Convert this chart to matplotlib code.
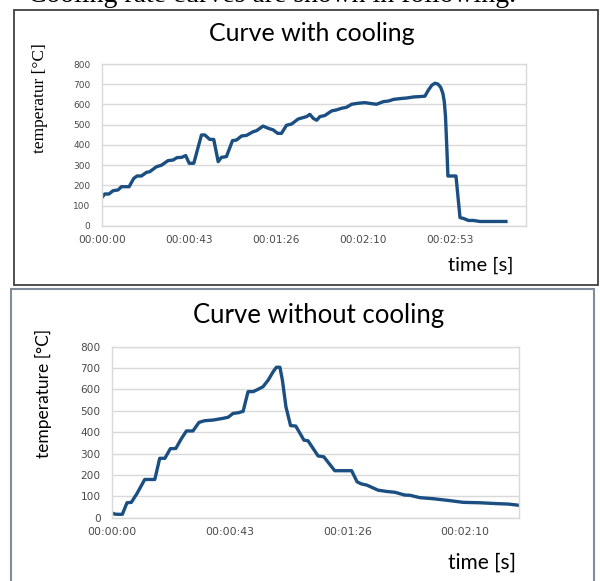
import matplotlib.pyplot as plt
from matplotlib.patches import Rectangle

# curve with cooling (time in s, temperature in degC)
t_cool = [0, 1.5, 3.6, 5.6, 8.1, 9.8, 13.6, 15.9, 17.5, 19.7, 22.2, 23.8, 27.2, 29.6,
          32.9, 35.4, 37.4, 39.6, 41.7, 43.4, 45.7, 49.5, 51.2, 53.6, 55.6, 57.8, 59.4,
          61.9, 64.9, 66.9, 69.4, 71.9, 75.1, 76.8, 80.1, 82.6, 85.1, 87.3, 89.2, 91.7,
          94.2, 97.5, 101.7, 103.3, 105.0, 106.7, 108.3, 110.7, 114.1, 116.5, 119.0,
          121.5, 124.0, 127.3, 130.6, 133.9, 136.4, 139.8, 142.3, 144.8, 148.1, 151.4,
          154.7, 158.0, 160.4, 162.1, 163.8, 165.4, 166.8, 168.2, 169.3, 170.0, 170.6,
          171.3, 171.8, 173.7, 175.8, 177.8, 179.5, 182.0, 184.4, 187.7, 194.3, 200.6]
T_cool = [138, 157, 157, 173, 177, 193, 193, 234, 246, 246, 264, 267, 292, 299,
          322, 325, 337, 338, 347, 309, 309, 449, 449, 427, 427, 317, 338,
          342, 421, 424, 444, 447, 465, 470, 493, 482, 474, 457, 457, 497,
          503, 528, 540, 551, 531, 522, 540, 545, 568, 573, 581,
          586, 601, 606, 609, 604, 601, 614, 617, 625, 629, 632,
          637, 639, 641, 671, 695, 705, 701, 685, 655, 614, 541,
          376, 246, 246, 246, 40, 36, 26, 26, 21, 21, 21]

# curve without cooling
t_nocool = [0, 1.1, 2.3, 3.9, 5.6, 7.2, 9.3, 12.1, 15.8, 17.6, 19.5, 21.5, 23.5, 25.6,
            27.4, 29.8, 32.0, 34.1, 37.2, 40.8, 42.7, 44.5, 46.4, 48.2, 50.0, 51.9,
            53.7, 55.5, 57.4, 59.2, 60.4, 61.7, 62.6, 63.9, 65.6, 67.5, 70.5, 72.0,
            75.7, 77.8, 81.8, 88.0, 90.0, 91.6, 93.5, 97.7, 100.8, 103.9, 107.5, 109.4,
            113.0, 117.9, 123.4, 128.9, 135.1, 141.2, 145.4, 149.5]
T_nocool = [23, 17, 16, 16, 70, 72, 114, 179, 179, 278, 278, 323, 324, 371,
            406, 406, 446, 454, 457, 465, 470, 488, 491, 498, 590, 590,
            601, 613, 644, 683, 704, 704, 644, 519, 431, 429, 363, 360,
            289, 285, 220, 220, 168, 158, 153, 129, 123, 119, 106, 105,
            94, 89, 81, 72, 70, 66, 64, 58]

x_ticks = [0, 43.2, 86.4, 129.6, 172.8]
x_labels = ['00:00:00', '00:00:43', '00:01:26', '00:02:10', '00:02:53']
y_ticks = [0, 100, 200, 300, 400, 500, 600, 700, 800]

line_col = '#1b4f82'
grid_col = '#d9d9d9'
tick_col = '#4a4a4a'

fig = plt.figure(figsize=(6, 5.81), dpi=100)

# text line of the page, mostly cut off at the top
fig.text(0.047, 0.9966, 'Cooling rate curves are shown in following.',
         family='Liberation Serif', fontsize=20, va='baseline', ha='left')

# frames around the two pictures
fig.patches.append(Rectangle((0.0225, 0.5095), 0.974, 0.474, transform=fig.transFigure,
                             fill=False, ec='#404040', lw=1.3))
fig.patches.append(Rectangle((0.019, -0.02), 0.971, 0.5226, transform=fig.transFigure,
                             fill=False, ec='#7f8c99', lw=1.5))


def style(ax, xmax, xsize, ysize):
    ax.set_xlim(0, xmax)
    ax.set_ylim(0, 800)
    ax.set_yticks(y_ticks)
    ax.set_xticks(x_ticks[:len([x for x in x_ticks if x <= xmax])])
    ax.set_xticklabels(x_labels[:len(ax.get_xticks())])
    ax.grid(axis='y', color=grid_col, lw=1)
    ax.set_axisbelow(True)
    for s in ax.spines.values():
        s.set_color(grid_col)
        s.set_linewidth(1)
    ax.tick_params(length=0, colors=tick_col)
    ax.tick_params(axis='x', labelsize=xsize, pad=7)
    ax.tick_params(axis='y', labelsize=ysize, pad=8)
    for lab in ax.get_xticklabels() + ax.get_yticklabels():
        lab.set_family('DejaVu Sans')


ax1 = fig.add_axes([0.1695, 0.6115, 0.707, 0.2783])
ax1.plot(t_cool, T_cool, color=line_col, lw=2.4, solid_joinstyle='round')
style(ax1, 210.5, 7.6, 6.5)
fig.text(0.52, 0.9432, 'Curve with cooling', family='Lato', fontsize=18,
         ha='center', va='center')
fig.text(0.0667, 0.8313, 'temperatur [°C]', family='Liberation Serif', fontsize=12.5,
         rotation=90, ha='center', va='center')
fig.text(0.8008, 0.5439, 'time [s]', family='Lato', fontsize=14.5,
         ha='center', va='center')

ax2 = fig.add_axes([0.1862, 0.1089, 0.6793, 0.2943])
ax2.plot(t_nocool, T_nocool, color=line_col, lw=2.4, solid_joinstyle='round')
style(ax2, 149.5, 7.8, 7.6)
fig.text(0.5317, 0.4578, 'Curve without cooling', family='Lato', fontsize=18.5,
         ha='center', va='center')
fig.text(0.0733, 0.3236, 'temperature [°C]', family='Lato', fontsize=12.5,
         rotation=90, ha='center', va='center')
fig.text(0.804, 0.031, 'time [s]', family='Lato', fontsize=15,
         ha='center', va='center')

fig.savefig('out.png', dpi=100, facecolor='white')
